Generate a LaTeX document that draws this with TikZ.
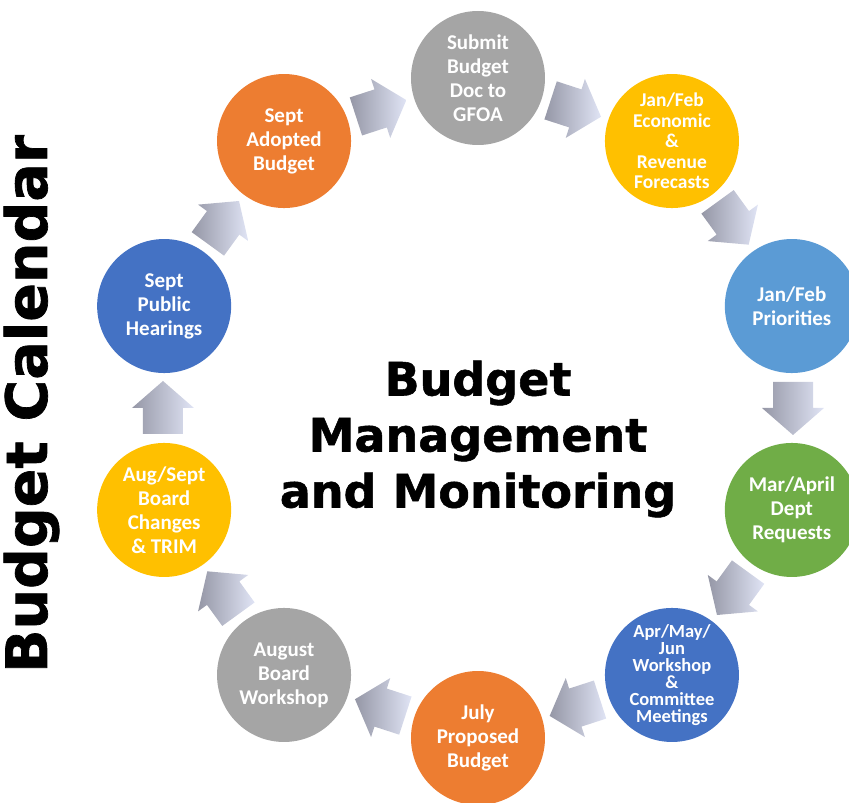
\documentclass[tikz,border=0pt]{standalone}
\usepackage{fontspec}
\setmainfont{Carlito}
\newfontfamily\headfont[FakeBold=1.2]{DejaVu Sans Bold}
\definecolor{stgorange}{HTML}{ED7D31}
\definecolor{stggrey}{HTML}{A5A5A5}
\definecolor{stgyellow}{HTML}{FFC000}
\definecolor{stgsky}{HTML}{5B9BD5}
\definecolor{stggreen}{HTML}{70AD47}
\definecolor{stgblue}{HTML}{4472C4}
\definecolor{arrowdark}{HTML}{9597A6}
\definecolor{arrowlight}{HTML}{E0E4F5}
\tikzset{
    stagenode/.style={
        circle,
        fill=#1, % colour of the stage
        minimum size=134pt,
        inner sep=0,
        text=white,
        align=center,
        font=\bfseries\fontsize{21}{24}\selectfont
    },
    flowarrow/.pic={
        % block arrow, pointing along +x
        \shade[left color=arrowdark, middle color=arrowlight!90!arrowdark, right color=arrowlight]
            (-26,-20) -- (0,-20) -- (0,-31) -- (27,0) -- (0,31) -- (0,20) -- (-26,20) -- cycle;
    }
}
\begin{document}
\begin{tikzpicture}[x=1pt, y=1pt]
    \useasboundingbox (-478,-395) rectangle (371,408);
    % title and centre text
    \node[rotate=90, anchor=base, font=\headfont\fontsize{57}{60}\selectfont] (title) at (-431,4) {Budget Calendar};
    \node[align=center, inner sep=0, font=\headfont\fontsize{46}{56}\selectfont] (centre) at (0,-31) {Budget\\Management\\and Monitoring};
    % stages, clockwise from the top
    \node[stagenode=stggrey] (gfoa) at (90:330) {Submit\\Budget\\Doc to\\GFOA};
    \node[stagenode=stgyellow, font=\bfseries\fontsize{19.5}{20.5}\selectfont] (forecast) at (54:330) {Jan/Feb\\Economic\\\&\\Revenue\\Forecasts};
    \node[stagenode=stgsky] (prio) at (18:330) {Jan/Feb\\Priorities};
    \node[stagenode=stggreen] (dept) at (-18:330) {Mar/April\\Dept\\Requests};
    \node[stagenode=stgblue, font=\bfseries\fontsize{18.5}{17}\selectfont] (workshop) at (-54:330) {Apr/May/\\Jun\\Workshop\\\&\\Committee\\Meetings};
    \node[stagenode=stgorange] (proposed) at (-90:330) {July\\Proposed\\Budget};
    \node[stagenode=stggrey] (board) at (-126:330) {August\\Board\\Workshop};
    \node[stagenode=stgyellow] (trim) at (-162:330) {Aug/Sept\\Board\\Changes\\\& TRIM};
    \node[stagenode=stgblue] (hearing) at (162:330) {Sept\\Public\\Hearings};
    \node[stagenode=stgorange] (adopted) at (126:330) {Sept\\Adopted\\Budget};
    % block arrows between the stages
    \pic[rotate=-18] (a1) at (72:315) {flowarrow};
    \pic[rotate=-54] (a2) at (36:315) {flowarrow};
    \pic[rotate=-90] (a3) at (0:315) {flowarrow};
    \pic[rotate=-126] (a4) at (-36:315) {flowarrow};
    \pic[rotate=-162] (a5) at (-72:315) {flowarrow};
    \pic[rotate=162] (a6) at (-108:315) {flowarrow};
    \pic[rotate=126] (a7) at (-144:315) {flowarrow};
    \pic[rotate=90] (a8) at (180:315) {flowarrow};
    \pic[rotate=54] (a9) at (144:315) {flowarrow};
    \pic[rotate=18] (a10) at (108:315) {flowarrow};
\end{tikzpicture}
\end{document}
